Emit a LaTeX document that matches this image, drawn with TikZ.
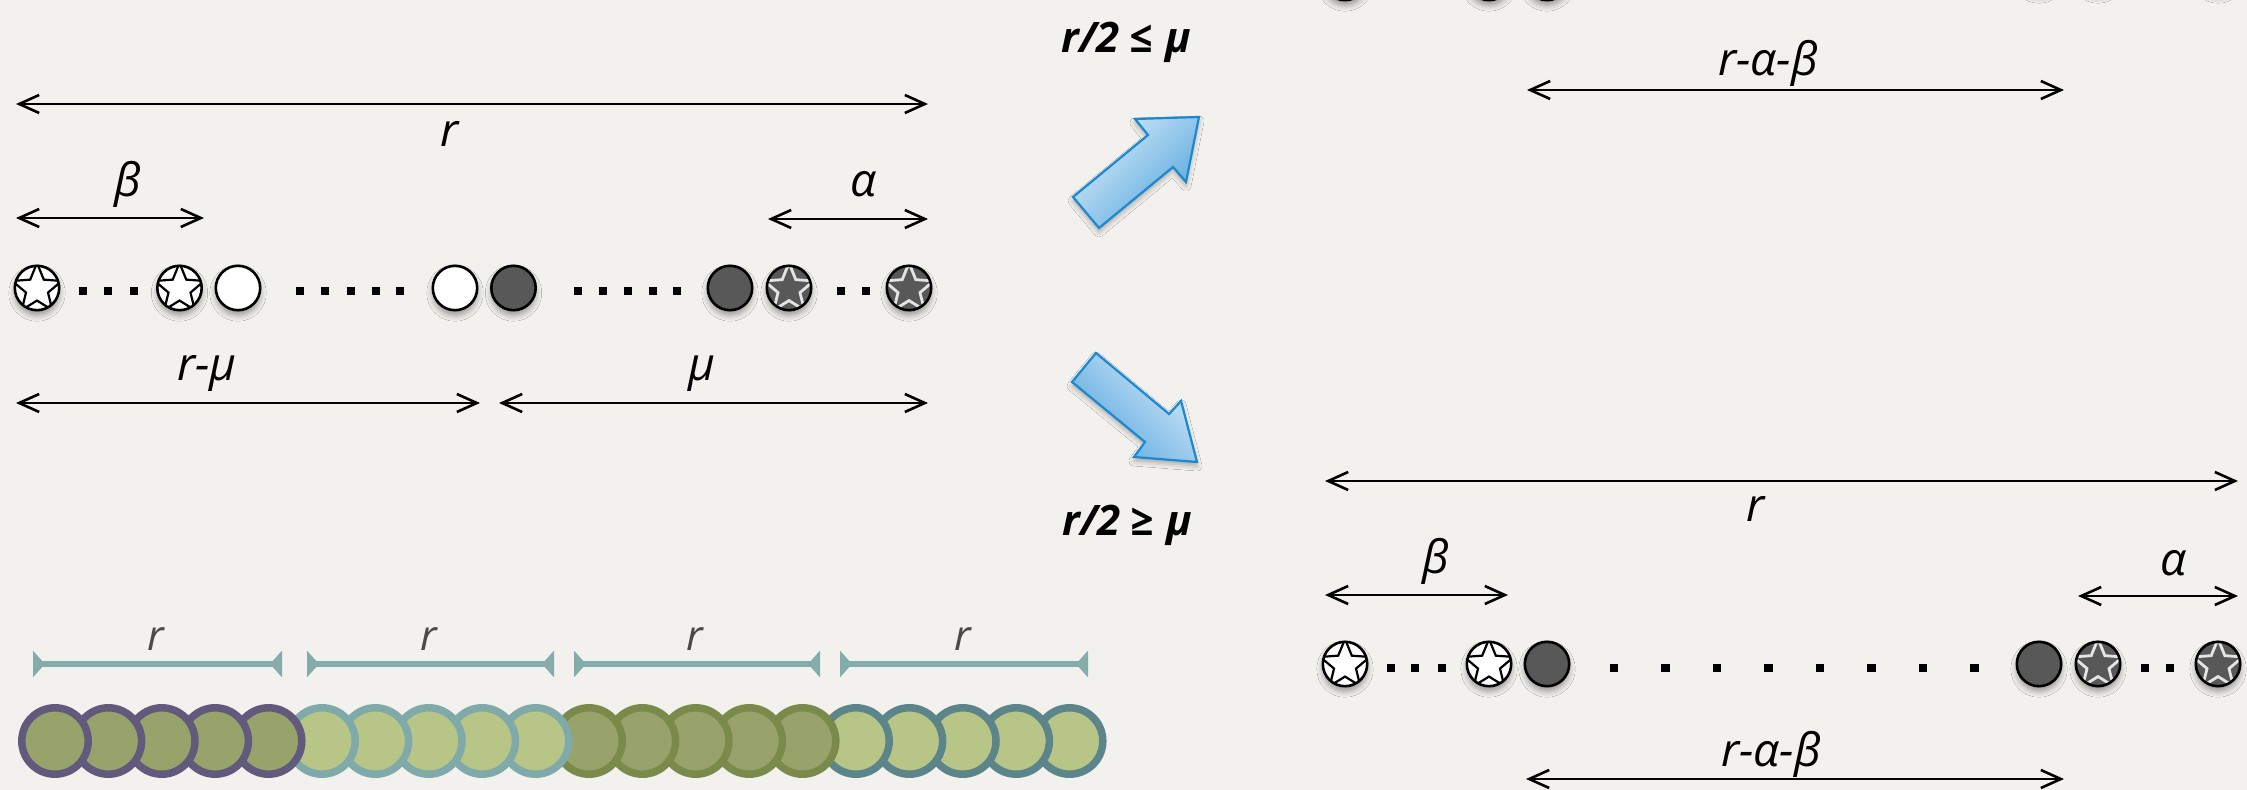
\documentclass[tikz,border=0pt]{standalone}
\usepackage{fontspec}
\setmainfont{Open Sans}
\usetikzlibrary{arrows.meta,shapes.geometric,shadows.blur}

\definecolor{paper}{HTML}{F2F1ED}
\definecolor{ballgray}{HTML}{585858}
\definecolor{starline}{HTML}{E4E4E4}
\definecolor{barteal}{HTML}{84ACAA}
\definecolor{labgray}{HTML}{4A4A4A}
\definecolor{bluedge}{HTML}{1B88D0}
\definecolor{bluelight}{HTML}{D4E9F8}
\definecolor{bluedark}{HTML}{58A7DE}
\definecolor{oliveA}{HTML}{97A36B}
\definecolor{oliveB}{HTML}{B7C686}
\definecolor{ringA}{HTML}{625A7D}
\definecolor{ringB}{HTML}{80A9A9}
\definecolor{ringC}{HTML}{7A8A4B}
\definecolor{ringD}{HTML}{5C8589}

\tikzset{
  softshadow/.style={blur shadow={shadow xshift=0pt, shadow yshift=-2.5pt,
      shadow blur radius=3pt, shadow blur steps=6, shadow opacity=38}},
  ball/.style={circle, draw=black, line width=1.3pt, minimum size=22.2pt,
      inner sep=0pt, softshadow},
  wball/.style={ball, fill=white},
  dball/.style={ball, fill=ballgray},
  mstar/.style={star, star points=5, star point ratio=2.25, minimum size=26pt,
      inner sep=0pt, line width=1.1pt},
  wsball/.style={wball, path picture={
      \node[mstar, draw=black, fill=white] at ([yshift=-0.5pt]path picture bounding box.center) {};}},
  dsball/.style={dball, path picture={
      \node[mstar, draw=starline, fill=ballgray, line width=1.4pt]
        at ([yshift=-0.5pt]path picture bounding box.center) {};}},
  dotsq/.style={rectangle, fill=black, minimum size=4.3pt, inner sep=0pt},
  dimline/.style={{Straight Barb[length=10pt,width=9pt]}-{Straight Barb[length=10pt,width=9pt]},
      line width=1.3pt, black},
  lab/.style={font=\fontsize{23}{27}\selectfont\itshape, inner sep=0pt, anchor=base},
  condlab/.style={font=\fontsize{21}{25}\selectfont\bfseries\itshape, inner sep=0pt, anchor=base},
  barlab/.style={font=\fontsize{21}{25}\selectfont\itshape, text=labgray, inner sep=0pt, anchor=base},
  barline/.style={{Triangle[reversed,length=6pt,width=13pt]}-{Triangle[reversed,length=6pt,width=13pt]},
      line width=2.7pt, draw=barteal},
  bead/.style={circle, line width=3.75pt, minimum size=33.2pt, inner sep=0pt},
  grp0/.style={bead, draw=ringA, fill=oliveA},
  grp1/.style={bead, draw=ringB, fill=oliveB},
  grp2/.style={bead, draw=ringC, fill=oliveA},
  grp3/.style={bead, draw=ringD, fill=oliveB},
  bigarrow/.style={draw=bluedge, line width=1.1pt, line join=miter,
      top color=bluelight, bottom color=bluedark,
      blur shadow={shadow xshift=0pt, shadow yshift=-2pt, shadow blur radius=2.5pt,
      shadow opacity=30}},
}

\begin{document}
\begin{tikzpicture}[x=0.5pt,y=-0.5pt]
\path[use as bounding box, fill=paper] (0,0) rectangle (2247,790);
\clip (0,0) rectangle (2247,790);

% ---------- upper row (only its lower rim shows) ----------
\node[wsball] (c1) at (1345,-22) {};
\node[wsball] (c2) at (1489,-22) {};
\node[dball]  (c3) at (1547,-22) {};
\node[dball]  (c4) at (2039,-30) {};
\node[dsball] (c5) at (2098,-30) {};
\node[dsball] (c6) at (2218,-30) {};

% ---------- left panel: one window of length r ----------
\coordinate (rL) at (16,104);   \coordinate (rR) at (928,104);
\draw[dimline] (rL) -- (rR);
\node[lab] (rlab) at (450,147) {r};

\coordinate (bL) at (16,218);   \coordinate (bR) at (204,218);
\draw[dimline] (bL) -- (bR);
\node[lab] (blab) at (128,197) {β};

\coordinate (aL) at (768,219);  \coordinate (aR) at (928,219);
\draw[dimline] (aL) -- (aR);
\node[lab] (alab) at (864,197) {α};

\foreach \x/\s [count=\n] in {37/wsball,179.5/wsball,238/wball,455/wball,
                              513.5/dball,730/dball,789/dsball,909/dsball}
  \node[\s] (a\n) at (\x,288) {};
\foreach \x [count=\n] in {83,108,134,300,325,351,376,400,578,603,628,653,677,841,866}
  \node[dotsq] (ad\n) at (\x,291) {};

\coordinate (mL) at (16,403);   \coordinate (mM) at (480,403);
\coordinate (nM) at (499,403);  \coordinate (nR) at (928,403);
\draw[dimline] (mL) -- (mM);
\draw[dimline] (nM) -- (nR);
\node[lab] (rmlab) at (207,381) {r-μ};
\node[lab] (mulab) at (702,381) {μ};

% ---------- the two cases ----------
\node[condlab] (caseA) at (1126,53) {r/2\hspace{5pt}≤\hspace{6pt}μ};
\node[condlab] (caseB) at (1127,535) {r/2\hspace{5pt}≥\hspace{6pt}μ};

\path[bigarrow, shading angle=45]
  (1073,197) -- (1148,135) -- (1135,119) -- (1199,117) -- (1186,182)
  -- (1173,167) -- (1099,228) -- cycle;
\path[bigarrow, shading angle=-45]
  (1072,382) -- (1096,353) -- (1169,414) -- (1181,401) -- (1197,462)
  -- (1134,457) -- (1145,442) -- cycle;

% ---------- upper right: remaining span ----------
\coordinate (tL) at (1527,90);  \coordinate (tR) at (2064,90);
\draw[dimline] (tL) -- (tR);
\node[lab] (tlab) at (1768,76) {r-α-β};

% ---------- lower right panel ----------
\coordinate (RL) at (1325,481); \coordinate (RR) at (2238,481);
\draw[dimline] (RL) -- (RR);
\node[lab] (Rlab) at (1756,522) {r};

\coordinate (BL) at (1325,595); \coordinate (BR) at (1508,595);
\draw[dimline] (BL) -- (BR);
\node[lab] (Blab) at (1436,573) {β};

\coordinate (AL) at (2078,596); \coordinate (AR) at (2238,596);
\draw[dimline] (AL) -- (AR);
\node[lab] (Alab) at (2174,575) {α};

\foreach \x/\s [count=\n] in {1345/wsball,1489/wsball,1547/dball,2039/dball,2098/dsball,2218/dsball}
  \node[\s] (b\n) at (\x,664) {};
\foreach \x [count=\n] in {1391,1415,1442,1614,1665.5,1717,1768.5,1820,1871.5,1923,1974.5,2145,2170}
  \node[dotsq] (bd\n) at (\x,668) {};

\coordinate (SL) at (1526,779); \coordinate (SR) at (2064,779);
\draw[dimline] (SL) -- (SR);
\node[lab] (Slab) at (1771,766) {r-α-β};

% ---------- bottom left: consecutive windows ----------
\foreach \k/\a/\b/\m in {1/33/282/156, 2/307/554/429, 3/574/820/695, 4/840/1088/963} {
  \coordinate (ws\k) at (\a,664);
  \coordinate (we\k) at (\b,664);
  \draw[barline] (ws\k) -- (we\k);
  \node[barlab] (wl\k) at (\m,650) {r};
}
\foreach \i in {19,18,...,0} {
  \pgfmathtruncatemacro\g{\i/5}
  \node[grp\g] (p\i) at ({55+53.4*\i},741) {};
}
\end{tikzpicture}
\end{document}
